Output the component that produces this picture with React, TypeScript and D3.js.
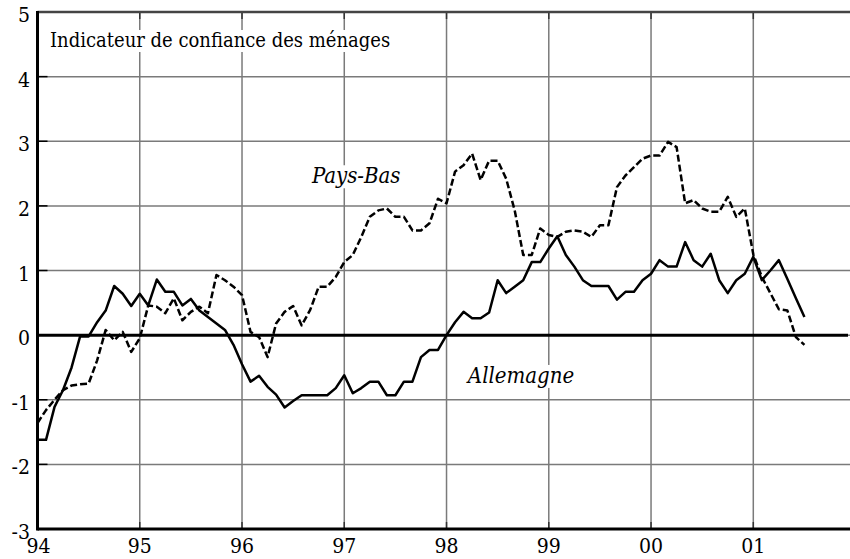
import * as d3 from "d3";
import { useEffect, useRef } from "react";

// monthly values, Jan 1994 -> Jul 2001
const allemagne = [
  -1.62, -1.62, -1.11, -0.85, -0.5, -0.02, -0.02, 0.2, 0.38, 0.76, 0.64, 0.45,
  0.64, 0.46, 0.86, 0.67, 0.67, 0.46, 0.56, 0.38, 0.28, 0.18, 0.08, -0.15,
  -0.45, -0.72, -0.63, -0.8, -0.92, -1.12, -1.02, -0.93, -0.93, -0.93, -0.93, -0.82,
  -0.62, -0.9, -0.82, -0.72, -0.72, -0.93, -0.93, -0.72, -0.72, -0.34, -0.23, -0.23,
  0.0, 0.2, 0.36, 0.26, 0.26, 0.35, 0.85, 0.65, 0.75, 0.85, 1.13, 1.13,
  1.34, 1.53, 1.24, 1.06, 0.85, 0.76, 0.76, 0.76, 0.55, 0.67, 0.67, 0.85,
  0.95, 1.16, 1.06, 1.06, 1.44, 1.16, 1.06, 1.26, 0.85, 0.65, 0.85, 0.95,
  1.21, 0.85, 1.0, 1.16, 0.87, 0.57, 0.28,
];

const paysBas = [
  -1.36, -1.16, -1.0, -0.85, -0.78, -0.76, -0.75, -0.39, 0.08, -0.08, 0.05, -0.26,
  -0.05, 0.46, 0.44, 0.34, 0.57, 0.23, 0.36, 0.44, 0.34, 0.93, 0.85, 0.75,
  0.62, 0.05, -0.03, -0.34, 0.18, 0.36, 0.45, 0.15, 0.39, 0.75, 0.75, 0.9,
  1.13, 1.24, 1.52, 1.83, 1.93, 1.96, 1.83, 1.83, 1.62, 1.62, 1.73, 2.11,
  2.04, 2.53, 2.63, 2.81, 2.4, 2.7, 2.7, 2.42, 1.93, 1.24, 1.24, 1.65,
  1.55, 1.52, 1.6, 1.62, 1.6, 1.52, 1.7, 1.7, 2.29, 2.47, 2.6, 2.73,
  2.78, 2.78, 2.99, 2.91, 2.04, 2.09, 1.96, 1.91, 1.91, 2.14, 1.83, 1.96,
  1.25, 0.9, 0.65, 0.4, 0.38, -0.03, -0.15,
];

const yearLabels = ["94", "95", "96", "97", "98", "99", "00", "01"];
const yTicks = [-3, -2, -1, 0, 1, 2, 3, 4, 5];

const title = "Indicateur de confiance des ménages";
const seriesLabels = [
  { text: "Pays-Bas", month: 32.2, value: 2.35 },
  { text: "Allemagne", month: 50.5, value: -0.74 },
];

const font = '"DejaVu Serif Condensed", "DejaVu Serif", serif';

export default function App() {
  const svgRef = useRef<SVGSVGElement>(null);
  const width = 850;
  const height = 559;

  useEffect(() => {
    const svg = d3.select(svgRef.current);
    svg.selectAll("*").remove();

    const left = 37.5;
    const right = 850;
    const top = 12;
    const bottom = 529;

    const x = d3.scaleLinear().domain([0, 84]).range([left, 753.3]);
    const y = d3.scaleLinear().domain([-3, 5]).range([bottom, top]);

    svg.append("rect").attr("width", width).attr("height", height).attr("fill", "#fff");

    const g = svg.append("g").style("font-family", font);

    // grid
    g.selectAll(".hgrid")
      .data(yTicks.filter((d) => d > -3 && d < 5))
      .join("line")
      .attr("x1", left).attr("x2", right)
      .attr("y1", (d) => y(d)).attr("y2", (d) => y(d))
      .attr("stroke", "#7a7a7a").attr("stroke-width", 1.5);

    g.selectAll(".vgrid")
      .data(yearLabels.slice(1))
      .join("line")
      .attr("x1", (_, i) => x((i + 1) * 12)).attr("x2", (_, i) => x((i + 1) * 12))
      .attr("y1", top).attr("y2", bottom)
      .attr("stroke", "#7a7a7a").attr("stroke-width", 1.5);

    // inner ticks
    g.selectAll(".ltick")
      .data(yTicks)
      .join("line")
      .attr("x1", left).attr("x2", left + 10)
      .attr("y1", (d) => y(d)).attr("y2", (d) => y(d))
      .attr("stroke", "#000").attr("stroke-width", 1.5);

    yearLabels.slice(1).forEach((_, i) => {
      const xx = x((i + 1) * 12);
      g.append("line").attr("x1", xx).attr("x2", xx).attr("y1", top).attr("y2", top + 7)
        .attr("stroke", "#333").attr("stroke-width", 1.5);
      g.append("line").attr("x1", xx).attr("x2", xx).attr("y1", bottom - 7).attr("y2", bottom)
        .attr("stroke", "#333").attr("stroke-width", 1.5);
    });

    // title with white box
    const tt = g.append("text")
      .attr("x", 50).attr("y", 47)
      .style("font-family", font).attr("font-size", 20)
      .attr("fill", "#000")
      .text(title);
    const tb = (tt.node() as SVGTextElement).getBBox();
    g.insert("rect", () => tt.node())
      .attr("x", tb.x - 2).attr("y", tb.y + 2).attr("width", tb.width + 4).attr("height", tb.height - 2)
      .attr("fill", "#fff");

    // series labels with white box
    seriesLabels.forEach((s) => {
      const t = g.append("text")
        .attr("x", x(s.month)).attr("y", y(s.value))
        .style("font-family", font).attr("font-size", 22).attr("font-style", "italic")
        .attr("fill", "#000")
        .text(s.text);
      const b = (t.node() as SVGTextElement).getBBox();
      g.insert("rect", () => t.node())
        .attr("x", b.x - 2).attr("y", b.y + 2).attr("width", b.width + 4).attr("height", b.height - 2)
        .attr("fill", "#fff");
    });

    // zero line
    g.append("line")
      .attr("x1", left).attr("x2", 848)
      .attr("y1", y(0)).attr("y2", y(0))
      .attr("stroke", "#000").attr("stroke-width", 3);

    // frame
    g.append("line").attr("x1", left).attr("x2", right).attr("y1", top).attr("y2", top)
      .attr("stroke", "#444").attr("stroke-width", 2.5);
    g.append("line").attr("x1", left).attr("x2", right).attr("y1", bottom).attr("y2", bottom)
      .attr("stroke", "#000").attr("stroke-width", 3);
    g.append("line").attr("x1", left).attr("x2", left).attr("y1", top - 1).attr("y2", bottom + 1.5)
      .attr("stroke", "#000").attr("stroke-width", 3);

    // series
    const line = d3.line<number>().x((_, i) => x(i)).y((d) => y(d));

    g.append("path")
      .datum(paysBas)
      .attr("d", line)
      .attr("fill", "none").attr("stroke", "#000").attr("stroke-width", 2.5)
      .attr("stroke-dasharray", "7,3").attr("stroke-linejoin", "round");

    g.append("path")
      .datum(allemagne)
      .attr("d", line)
      .attr("fill", "none").attr("stroke", "#000").attr("stroke-width", 2.5)
      .attr("stroke-linejoin", "round");

    // y labels
    g.selectAll(".ylab")
      .data(yTicks)
      .join("text")
      .attr("x", 30).attr("y", (d) => y(d) + 10)
      .attr("text-anchor", "end")
      .style("font-family", font).attr("font-size", 21)
      .attr("fill", "#000")
      .text((d) => String(d));

    // x labels
    g.selectAll(".xlab")
      .data(yearLabels)
      .join("text")
      .attr("x", (_, i) => x(i * 12) + (i === 0 ? 1 : 0)).attr("y", 553)
      .attr("text-anchor", "middle")
      .style("font-family", font).attr("font-size", 21)
      .attr("fill", "#000")
      .text((d) => d);
  }, []);

  return (
    <svg
      ref={svgRef}
      width={width}
      height={height}
      style={{ position: "absolute", left: 0, top: 0, display: "block" }}
    />
  );
}
